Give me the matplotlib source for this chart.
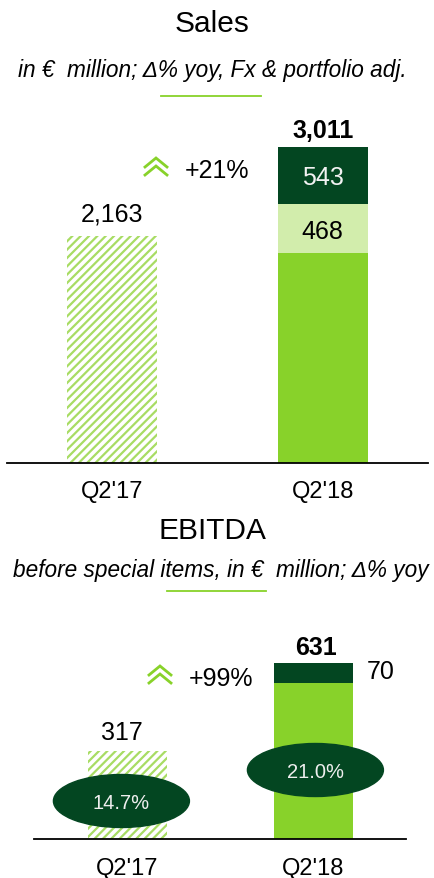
import matplotlib.pyplot as plt
from matplotlib.patches import Ellipse
from matplotlib.lines import Line2D

plt.rcParams['font.family'] = ['Liberation Sans', 'DejaVu Sans']
plt.rcParams['hatch.linewidth'] = 1.6

# data
quarters = ["Q2'17", "Q2'18"]
sales_prev = 2163
sales_base = 2000
sales_fx = 468
sales_portfolio = 543
sales_total = 3011
sales_growth = "+21%"

ebitda_prev = 317
ebitda_base = 561
ebitda_extra = 70
ebitda_total = 631
ebitda_growth = "+99%"
margins = ["14.7%", "21.0%"]

GREEN = '#88d22a'
LIGHT = '#d2edac'
DARK = '#034621'
HATCH = '#a8dc64'
NUM = 18

W, H = 434, 879
fig = plt.figure(figsize=(W / 100, H / 100), dpi=100)


def px(x, y):
    # pixel position (from top-left) -> figure fraction
    return x / W, 1 - y / H


def add_axes(left, right, top, bottom):
    ax = fig.add_axes([left / W, 1 - bottom / H, (right - left) / W, (bottom - top) / H])
    for s in ['top', 'right', 'left']:
        ax.spines[s].set_visible(False)
    ax.spines['bottom'].set_linewidth(1.3)
    ax.set_yticks([])
    ax.set_xlim(-0.5, 1.5)
    ax.set_facecolor('none')
    return ax


def header(title, sub, ty, sy, ly, lx0, lx1, tx, sx):
    fig.text(*px(tx, ty), title, ha='center', va='baseline', fontsize=21.5)
    fig.text(*px(sx, sy), sub, ha='center', va='baseline', fontsize=16.3, style='italic')
    fig.add_artist(Line2D([lx0 / W, lx1 / W], [1 - ly / H] * 2, color=GREEN, lw=1.3))


def chevron(x0, y0, label):
    for dy in (0, 8):
        xs = [x0, x0 + 11, x0 + 22]
        ys = [y0 + dy + 9, y0 + dy, y0 + dy + 9]
        fig.add_artist(Line2D([x / W for x in xs], [1 - y / H for y in ys],
                              color=GREEN, lw=2.0, solid_joinstyle='miter'))
    fig.text(*px(x0 + 40, y0 + 19), label, ha='left', va='baseline', fontsize=NUM)


# ---- Sales ----
header('Sales', 'in €  million; Δ% yoy, Fx & portfolio adj.', 32, 77, 97, 161, 261, 212, 212)
ax1 = add_axes(7, 428, 100, 464)
ax1.set_ylim(0, sales_total * (464 - 100) / (464 - 148))
w1 = 90 / 210.5
ax1.bar(0, sales_prev, w1, color='white', edgecolor=HATCH, hatch='////', linewidth=0)
ax1.bar(1, sales_base, w1, color=GREEN, linewidth=0)
ax1.bar(1, sales_fx, w1, bottom=sales_base, color=LIGHT, linewidth=0)
ax1.bar(1, sales_portfolio, w1, bottom=sales_base + sales_fx, color=DARK, linewidth=0)
ax1.annotate(f'{sales_prev:,}', (0, sales_prev), xytext=(0, 15), textcoords='offset pixels',
             ha='center', va='baseline', fontsize=NUM)
ax1.annotate(f'{sales_total:,}', (1, sales_total), xytext=(0, 10), textcoords='offset pixels',
             ha='center', va='baseline', fontsize=NUM, fontweight='bold')
ax1.annotate(f'{sales_fx}', (1, sales_base + sales_fx / 2), xytext=(0, -9),
             textcoords='offset pixels', ha='center', va='baseline', fontsize=NUM)
ax1.annotate(f'{sales_portfolio}', (1, sales_base + sales_fx + sales_portfolio / 2),
             xytext=(0, -9), textcoords='offset pixels', ha='center', va='baseline',
             fontsize=NUM, color='#f2f2f2')
ax1.set_xticks([0, 1], quarters, fontsize=17)
ax1.tick_params(axis='x', length=0, pad=12.5)
chevron(145, 159, sales_growth)

# ---- EBITDA ----
header('EBITDA', 'before special items, in €  million; Δ% yoy', 539, 577, 592, 167, 266, 212, 221)
ax2 = add_axes(34, 406, 600, 840)
ax2.set_ylim(0, ebitda_total * (840 - 600) / (840 - 664))
w2 = 79 / 186
ax2.bar(0, ebitda_prev, w2, color='white', edgecolor=HATCH, hatch='////', linewidth=0)
ax2.bar(1, ebitda_base, w2, color=GREEN, linewidth=0)
ax2.bar(1, ebitda_extra, w2, bottom=ebitda_base, color=DARK, linewidth=0)
ax2.annotate(f'{ebitda_prev}', (0, ebitda_prev), xytext=(-5, 12), textcoords='offset pixels',
             ha='center', va='baseline', fontsize=NUM)
ax2.annotate(f'{ebitda_total}', (1, ebitda_total), xytext=(3, 9), textcoords='offset pixels',
             ha='center', va='baseline', fontsize=NUM, fontweight='bold')
ax2.annotate(f'{ebitda_extra}', (1 + w2 / 2, ebitda_base + ebitda_extra / 2), xytext=(14, -5),
             textcoords='offset pixels', ha='left', va='baseline', fontsize=NUM)

# margin badges
ppu = (840 - 664) / ebitda_total
for xc, yc, txt in [(-0.03, 38 / ppu, margins[0]), (1.013, 69 / ppu, margins[1])]:
    ax2.add_patch(Ellipse((xc, yc), 136 / 186, 53 / ppu, color=DARK, zorder=3))
    ax2.annotate(txt, (xc, yc), xytext=(0, -7.5), textcoords='offset pixels',
                 ha='center', va='baseline', fontsize=14.5, color='#eeeeee', zorder=4)

ax2.set_xticks([0, 1], quarters, fontsize=17)
ax2.tick_params(axis='x', length=0, pad=13)
chevron(149, 667, ebitda_growth)

fig.savefig('out.png', dpi=100)
